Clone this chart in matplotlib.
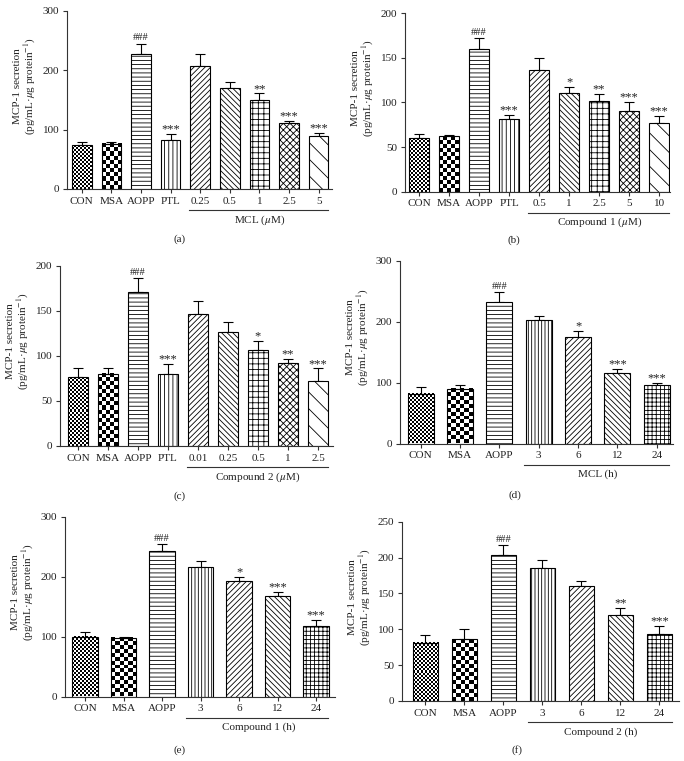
import numpy as np
import matplotlib
matplotlib.use("Agg")
import matplotlib.pyplot as plt
import matplotlib.transforms as mtransforms

plt.rcParams['font.family'] = ['Liberation Serif', 'DejaVu Serif']
plt.rcParams['mathtext.fontset'] = 'stix'
plt.rcParams['hatch.linewidth'] = 0.6

# data
cats_a = ['CON', 'MSA', 'AOPP', 'PTL', '0.25', '0.5', '1', '2.5', '5']
mean_a = [74, 76, 227, 83, 208, 170, 150, 111, 89]
err_a = [6, 4, 18, 10, 19, 10, 11, 4, 5]
sig_a = ['', '', '###', '***', '', '', '**', '***', '***']

cats_b = ['CON', 'MSA', 'AOPP', 'PTL', '0.5', '1', '2.5', '5', '10']
mean_b = [60, 62, 160, 82, 136, 111, 102, 90, 77]
err_b = [5, 2, 12, 4, 14, 6, 8, 11, 8]
sig_b = ['', '', '###', '***', '', '*', '**', '***', '***']

cats_c = ['CON', 'MSA', 'AOPP', 'PTL', '0.01', '0.25', '0.5', '1', '2.5']
mean_c = [76, 80, 171, 80, 146, 126, 107, 92, 72]
err_c = [10, 6, 15, 11, 15, 11, 9, 5, 14]
sig_c = ['', '', '###', '***', '', '', '*', '**', '***']

cats_time = ['CON', 'MSA', 'AOPP', '3', '6', '12', '24']

mean_d = [81, 90, 232, 202, 174, 116, 96]
err_d = [12, 6, 16, 8, 11, 7, 3]
sig_d = ['', '', '###', '', '*', '***', '***']

mean_e = [100, 98, 243, 216, 192, 167, 118]
err_e = [7, 2, 11, 10, 8, 8, 10]
sig_e = ['', '', '###', '', '*', '***', '***']

mean_f = [81, 86, 203, 185, 160, 120, 93]
err_f = [11, 14, 14, 11, 8, 10, 12]
sig_f = ['', '', '###', '', '', '**', '***']

# fill styles: 'chk<px>' = checkerboard, otherwise a hatch string
dose_fills = ['chk2', 'chk4', '----', '||||', '//////', '\\\\\\\\\\\\', '+++', 'xxxxx', '\\\\']
time_fills = ['chk2', 'chk4', '----', '|||||', '//////', '\\\\\\\\\\\\', '++++']

W, H = 684, 761
fig = plt.figure(figsize=(W / 100, H / 100), dpi=100)
ink = '#222222'
fs = 8


def checker(ax, x0, x1, y1, cell):
    p0 = ax.transData.transform((x0, 0))
    p1 = ax.transData.transform((x1, y1))
    nx = max(1, int(round((p1[0] - p0[0]) / cell)))
    ny = max(1, int(round((p1[1] - p0[1]) / cell)))
    arr = np.add.outer(np.arange(ny), np.arange(nx)) % 2
    ax.imshow(arr, cmap='gray', extent=(x0, x1, 0, y1), aspect='auto',
              interpolation='nearest', origin='lower', zorder=1)


def panel(left, top, spacing, bottom, xlim, ylim, yticks, cats, means, errs, sigs,
          fills, first_treat, group, letter, letter_x, letter_y):
    w = (xlim[1] - xlim[0]) * spacing
    h = bottom - top
    ax = fig.add_axes([left / W, 1 - bottom / H, w / W, h / H])
    ax.set_xlim(*xlim)
    ax.set_ylim(*ylim)
    ax.set_autoscale_on(False)
    x = np.arange(len(cats))
    bw = 0.66
    for i in range(len(cats)):
        f = fills[i]
        if f.startswith('chk'):
            checker(ax, x[i] - bw / 2, x[i] + bw / 2, means[i], float(f[3:]))
            ax.bar(x[i], means[i], bw, facecolor='none', edgecolor='black', lw=0.8, zorder=2)
        else:
            ax.bar(x[i], means[i], bw, facecolor='white', edgecolor='black', lw=0.8,
                   hatch=f, zorder=2)
    ax.errorbar(x, means, yerr=[np.zeros(len(errs)), errs], fmt='none', ecolor='black',
                elinewidth=0.8, capsize=3.5, capthick=0.8, zorder=1.5)
    for i, s in enumerate(sigs):
        if s:
            star = s.startswith('*')
            ax.annotate(s, (x[i], means[i] + errs[i]), xytext=(0, -1 if star else 1),
                        textcoords='offset points', ha='center', va='bottom',
                        fontsize=9 if star else 7.5, color=ink)
    for sp in ['top', 'right']:
        ax.spines[sp].set_visible(False)
    for sp in ['left', 'bottom']:
        ax.spines[sp].set_color('#333333')
        ax.spines[sp].set_linewidth(0.8)
    ax.set_xticks(x)
    ax.set_xticklabels(cats)
    ax.set_yticks(yticks)
    ax.tick_params(direction='out', length=3, width=0.8, color='#333333',
                   labelsize=fs, labelcolor=ink, pad=2.5)
    ax.set_ylabel('MCP-1 secretion\n(pg/mL·$\\mu$g protein$^{-1}$)', fontsize=fs,
                  color=ink, linespacing=1.1)
    ax.yaxis.set_label_coords(-29 / w, 0.58)
    trans = mtransforms.blended_transform_factory(ax.transData, ax.transAxes)
    ax.plot([first_treat - 0.38, len(cats) - 1 + 0.32], [-21 / h, -21 / h], color='#333333',
            lw=0.8, transform=trans, clip_on=False)
    ax.text((first_treat + len(cats) - 1) / 2, -31 / h, group, transform=trans,
            ha='center', va='center', fontsize=fs, color=ink)
    fig.text(letter_x / W, 1 - letter_y / H, letter, ha='center', va='center',
             fontsize=fs, color=ink)
    return ax


panel(67, 11, 29.6, 189, (-0.5, 8.45), (0, 300), [0, 100, 200, 300],
      cats_a, mean_a, err_a, sig_a, dose_fills, 4, 'MCL ($\\mu$M)', '(a)', 180, 239)
panel(405, 13.3, 30, 191.7, (-0.47, 8.35), (0, 200), [0, 50, 100, 150, 200],
      cats_b, mean_b, err_b, sig_b, dose_fills, 4, 'Compound 1 ($\\mu$M)', '(b)', 514, 240)
panel(60, 265.7, 30, 446, (-0.6, 8.5), (0, 200), [0, 50, 100, 150, 200],
      cats_c, mean_c, err_c, sig_c, dose_fills, 4, 'Compound 2 ($\\mu$M)', '(c)', 180, 496)
panel(400, 260.7, 39.3, 443.5, (-0.53, 6.42), (0, 300), [0, 100, 200, 300],
      cats_time, mean_d, err_d, sig_d, time_fills, 3, 'MCL (h)', '(d)', 515, 495)
panel(65, 516.7, 38.5, 696.5, (-0.52, 6.5), (0, 300), [0, 100, 200, 300],
      cats_time, mean_e, err_e, sig_e, time_fills, 3, 'Compound 1 (h)', '(e)', 180, 750)
panel(402, 521.7, 39, 701, (-0.6, 6.5), (0, 250), [0, 50, 100, 150, 200, 250],
      cats_time, mean_f, err_f, sig_f, time_fills, 3, 'Compound 2 (h)', '(f)', 517, 750)

fig.savefig('out.png', dpi=100)
